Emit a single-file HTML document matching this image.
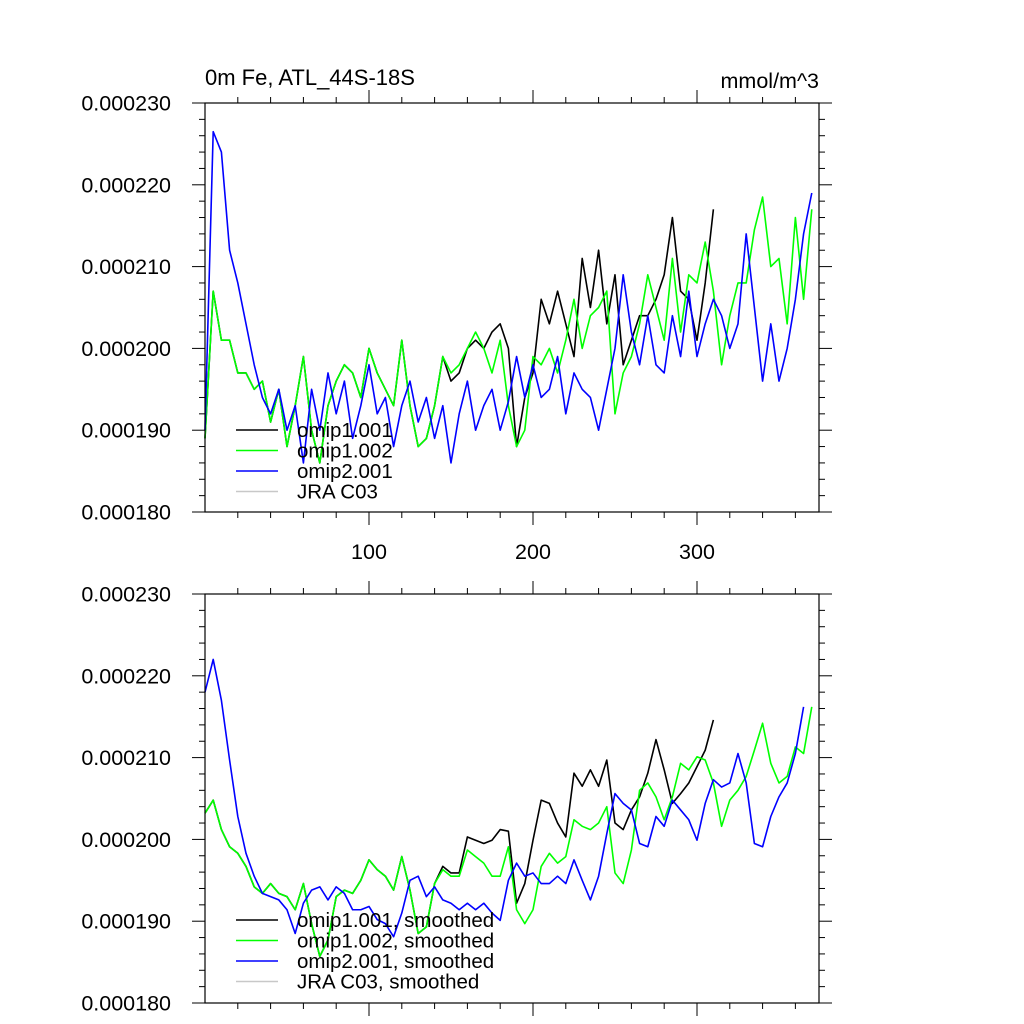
<!DOCTYPE html>
<html><head><meta charset="utf-8"><style>
body{margin:0;background:#fff;}
svg{display:block;font-family:"Liberation Sans",Arial,sans-serif;}
</style></head><body>
<svg id="chart" width="1024" height="1024" viewBox="0 0 1024 1024" xmlns="http://www.w3.org/2000/svg">
<rect x="0" y="0" width="1024" height="1024" fill="#fff"/>
<text x="205" y="85" font-size="22" fill="#000">0m Fe, ATL_44S-18S</text>
<text x="819" y="88" font-size="21.5" fill="#000" text-anchor="end">mmol/m^3</text>
<g id="top"></g>
<g id="bottom"></g>
</svg>
<script>
// values in units of 1e-6 mmol/m^3, sampled every 5 model years starting at year 0
const step = 5;
const yTicks = [180,190,200,210,220,230];
const yTickLabels = ["0.000180","0.000190","0.000200","0.000210","0.000220","0.000230"];
const xTicks = [100,200,300];
const xTickLabels = ["100","200","300"];
const topGreen = [189,207,201,201,197,197,195,196,191,195,188,193,199,190,186,193,196,198,197,194,200,197,195,193,201,193,188,189,193,199,197,198,200,202,200,197,201,193,188,
190,199,198,200,197,201,206,200,204,205,207,192,197,199,203,209,205,201,211,202,209,208,213,207,198,204,208,208,214.5,218.5,210,211,203,216,206,217];
const topBlack = [189,207,201,201,197,197,195,196,191,195,188,193,199,190,186,193,196,198,197,194,200,197,195,193,201,193,188,189,193,199,
196,197,200,201,200,202,203,200,188,194,197,206,203,207,203,199,211,205,212,203,209,198,201,204,204,206,209,216,207,206,201,208,217];
const topBlue = [190,226.5,224,212,208,203,198,194,192,195,190,193,186,195,190,197,192,196,189,193,198,192,194,188,193,196,191,194,189,193,186,192,196,190,193,195,190,
193.5,199,194,198,194,195,199,192,197,195,194,190,195,200,209,202,198,204,198,197,204,199,207,199,203,206,204,200,203,214,205,196,203,196,200,206,214,219];
const botGreen = [203.2,204.8,201.2,199.1,198.3,196.7,194.2,193.4,194.6,193.4,193,191.4,194.6,189.7,185.7,187.7,193,193.8,193.4,195,197.5,196.3,195.5,193.8,197.9,193.8,188.5,189.3,194.6,196.3,195.5,195.5,198.7,197.9,197.1,195.5,195.5,199.1,191.4,
189.7,191.4,196.7,198.3,197.1,197.9,202.4,201.6,201.2,202,204,195.9,194.6,198.7,206,206.9,205.2,202.4,205.2,209.3,208.5,210.1,209.7,206.9,201.6,204.8,206,207.7,210.9,214.2,209.3,206.9,207.7,211.3,210.5,216.2];
const botBlack = [203.2,204.8,201.2,199.1,198.3,196.7,194.2,193.4,194.6,193.4,193,191.4,194.6,189.7,185.7,187.7,193,193.8,193.4,195,197.5,196.3,195.5,193.8,197.9,193.8,188.5,189.3,194.6,
196.7,195.9,195.9,200.3,199.9,199.5,199.9,201.2,201,192.2,194.6,199.9,204.8,204.4,202,200.3,208.1,206.5,208.5,206.5,209.7,202,201.2,203.6,205.2,208.1,212.2,208.5,204.4,205.6,206.9,208.9,210.9,214.6];
const botBlue = [218,222,217,209.7,202.8,198.3,195.5,193.4,193,192.6,191.4,188.5,192.2,193.8,194.2,192.6,194.2,193.4,191.4,191.4,191.8,190.2,189.7,188.1,191,195,195.5,193,194.2,192.6,192.2,191.4,192.2,191.4,192.2,191,190.1,195,197.1,
195.5,195.9,194.6,194.6,195.5,194.6,197.5,195,192.6,195.5,200.7,205.6,204.4,203.6,199.5,199.1,202.8,201.6,204.8,203.6,202.4,199.9,204.4,207.3,206.4,206.9,210.5,206.9,199.5,199.1,202.8,205.2,206.9,210.5,216.2];
const topLegend = ["omip1.001","omip1.002","omip2.001","JRA C03"];
const botLegend = ["omip1.001, smoothed","omip1.002, smoothed","omip2.001, smoothed","JRA C03, smoothed"];
const colors = ["#000000","#00ff00","#0000ff","#c8c8c8"];

const NS="http://www.w3.org/2000/svg";
const X0=205,X1=819,XMAX=374.4;
function xs(u){return X0+(u/XMAX)*(X1-X0);}
function mk(tag,attrs,parent){const e=document.createElementNS(NS,tag);for(const k in attrs)e.setAttribute(k,attrs[k]);parent.appendChild(e);return e;}

function panel(g,top,bottom,series,legend,legY,showXLabels){
  const ys=v=>bottom-(v-180)/50*(bottom-top);
  const names=["omip1-001","omip1-002","omip2-001"];
  series.forEach((vals,si)=>{
    let d="";
    vals.forEach((v,i)=>{d+=(i?"L":"M")+xs(i*step).toFixed(2)+","+ys(v).toFixed(2);});
    const p=mk("path",{d:d,fill:"none",stroke:colors[si],"stroke-width":1.6,"stroke-linejoin":"round"},g);
    
    
  });
  const f=mk("rect",{x:X0,y:top,width:X1-X0,height:bottom-top,fill:"none",stroke:"#000","stroke-width":1.2},g);
  
  
  for(let v=180;v<=230;v+=2){
    const major=(v%10===0);const L=major?13:6;const y=ys(v);
    const t1=mk("line",{x1:X0-L,x2:X0,y1:y,y2:y,stroke:"#000","stroke-width":1},g);
    
    
    const t2=mk("line",{x1:X1,x2:X1+L,y1:y,y2:y,stroke:"#000","stroke-width":1},g);
    
    
  }
  yTicks.forEach((v,i)=>{
    const t=mk("text",{x:171,y:ys(v)+7.5,"font-size":21.5,"text-anchor":"end",fill:"#000"},g);
    t.textContent=yTickLabels[i];
    
    
  });
  for(let u=20;u<=XMAX;u+=20){
    const major=(u%100===0);const L=major?13:6;const x=xs(u);
    const b=mk("line",{x1:x,x2:x,y1:bottom,y2:bottom+L,stroke:"#000","stroke-width":1},g);
    
    
    const tt=mk("line",{x1:x,x2:x,y1:top-L,y2:top,stroke:"#000","stroke-width":1},g);
    
    
  }
  if(showXLabels){
    xTicks.forEach((u,i)=>{
      const t=mk("text",{x:xs(u),y:bottom+47,"font-size":21.5,"text-anchor":"middle",fill:"#000"},g);
      t.textContent=xTickLabels[i];
      
      
    });
  }
  legend.forEach((lab,i)=>{
    const y=legY+i*20.5;
    const l=mk("line",{x1:236,x2:278,y1:y,y2:y,stroke:colors[i],"stroke-width":1.5},g);
    
    
    const t=mk("text",{x:297,y:y+7,"font-size":20.5,fill:"#000"},g);
    t.textContent=lab;
    
    
  });
}
panel(document.getElementById("top"),103,512,[topBlack,topGreen,topBlue],topLegend,430,true);
panel(document.getElementById("bottom"),594,1003,[botBlack,botGreen,botBlue],botLegend,920,false);
</script>
</body></html>
